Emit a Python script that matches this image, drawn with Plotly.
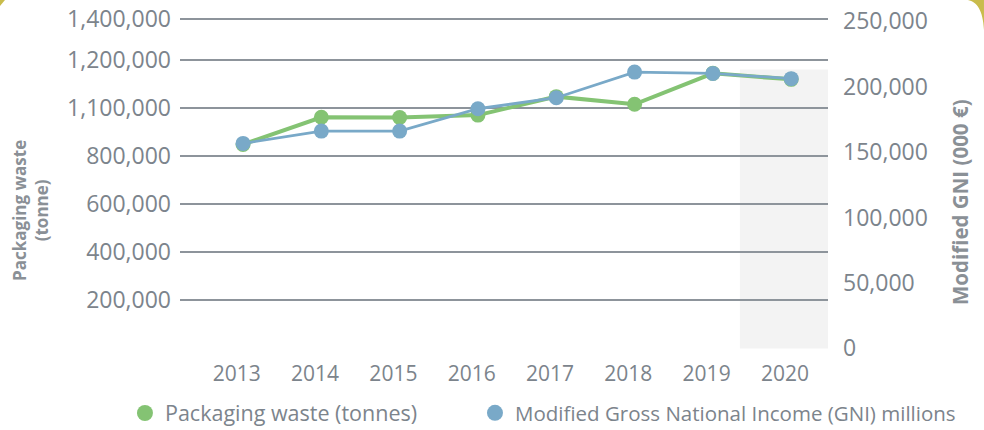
import plotly.graph_objects as go

years = [2013, 2014, 2015, 2016, 2017, 2018, 2019, 2020]
packaging_waste = [850000, 963000, 962000, 972000, 1049000, 1017000, 1146000, 1121000]
gni = [156700, 166100, 166100, 183200, 191600, 211200, 210200, 206200]

left_tickvals = [0, 200000, 400000, 600000, 800000, 1000000, 1200000, 1370800]
left_ticktext = ["", "200,000", "400,000", "600,000", "800,000", "1,100,000", "1,200,000", "1,400,000"]
right_tickvals = [0, 50000, 100000, 150000, 200000, 250000]
right_ticktext = ["0", "50,000", "100,000", "150,000", "200,000", "250,000"]

GREEN = "#84c373"
BLUE = "#79a9c8"
TXT = "#7c848c"
GRID = "#8d949b"
FONT = "Open Sans"

fig = go.Figure()

fig.add_trace(go.Scatter(
    x=years, y=gni, yaxis="y2", mode="lines+markers",
    line=dict(color=BLUE, width=2.8), marker=dict(color=BLUE, size=15),
    showlegend=False, name="Modified Gross National Income (GNI) millions"))
fig.add_trace(go.Scatter(
    x=years, y=packaging_waste, mode="lines+markers",
    line=dict(color=GREEN, width=4), marker=dict(color=GREEN, size=15),
    showlegend=False, name="Packaging waste (tonnes)"))

# legend-only entries (dots), each in its own legend box
fig.add_trace(go.Scatter(x=[None], y=[None], mode="markers",
                         marker=dict(color=GREEN, size=16),
                         name="Packaging waste (tonnes)", legend="legend"))
fig.add_trace(go.Scatter(x=[None], y=[None], mode="markers",
                         marker=dict(color=BLUE, size=16),
                         name="Modified Gross National Income (GNI) millions", legend="legend2"))

legend_common = dict(orientation="h", xref="container", yref="container",
                     y=0.0395, xanchor="left", yanchor="middle",
                     itemwidth=30, bgcolor="rgba(0,0,0,0)")

fig.update_layout(
    template="none",
    width=984, height=430,
    margin=dict(l=180, r=156, t=17, b=81, autoexpand=False),
    paper_bgcolor="white", plot_bgcolor="white",
    font=dict(family=FONT, color=TXT, size=20),
    xaxis=dict(range=[2012.195, 2020.47], tickvals=[y - 0.08 for y in years],
               ticktext=[str(y) for y in years], showgrid=False, zeroline=False,
               showline=False, ticks="", ticklabelstandoff=10, automargin=False,
               tickfont=dict(size=21, color=TXT)),
    yaxis=dict(range=[-2500, 1380833], tickvals=left_tickvals, ticktext=left_ticktext,
               showgrid=True, gridcolor=GRID, gridwidth=2, zeroline=False,
               showline=False, ticks="", ticklabelstandoff=8, automargin=False,
               ticklabeloverflow="allow", tickfont=dict(size=23, color=TXT)),
    yaxis2=dict(range=[-459, 253330], overlaying="y", side="right",
                tickvals=right_tickvals, ticktext=right_ticktext,
                showgrid=False, zeroline=False, showline=False, ticks="",
                ticklabelstandoff=14, automargin=False,
                ticklabeloverflow="allow", tickfont=dict(size=23, color=TXT)),
    legend=dict(legend_common, x=0.127, font=dict(size=21.5, color=TXT)),
    legend2=dict(legend_common, x=0.4827, font=dict(size=20.5, color=TXT)),
    shapes=[
        dict(type="rect", xref="x", yref="y", x0=2019.345, x1=2020.47,
             y0=0, y1=1162500, fillcolor="#f3f3f3", line=dict(width=0), layer="below"),
        dict(type="path", xref="paper", yref="paper",
             path="M 1.2160 1.0512 C 1.2299 1.0452 1.2392 1.0211 1.2407 0.9608 L 1.2407 1.0512 Z",
             fillcolor="#c9bc4c", line=dict(width=0)),
        dict(type="path", xref="paper", yref="paper",
             path="M -0.2778 1.0512 L -0.2701 1.0512 L -0.2778 1.0331 Z",
             fillcolor="#c9bc4c", line=dict(width=0)),
    ],
    annotations=[
        dict(text="<b>Packaging waste<br>(tonne)</b>", xref="paper", yref="paper",
             x=-0.23, y=0.4187, xanchor="center", yanchor="middle",
             textangle=-90, showarrow=False,
             font=dict(size=17, color="#8a9096", family=FONT)),
        dict(text="<b>Modified GNI (000 €)</b>", xref="paper", yref="paper",
             x=1.2037, y=0.4428, xanchor="center", yanchor="middle",
             textangle=-90, showarrow=False,
             font=dict(size=20.5, color="#8a9096", family=FONT)),
    ],
)

fig.write_html("out.html", config={"displayModeBar": False},
               post_script="document.body.style.margin='0';")
